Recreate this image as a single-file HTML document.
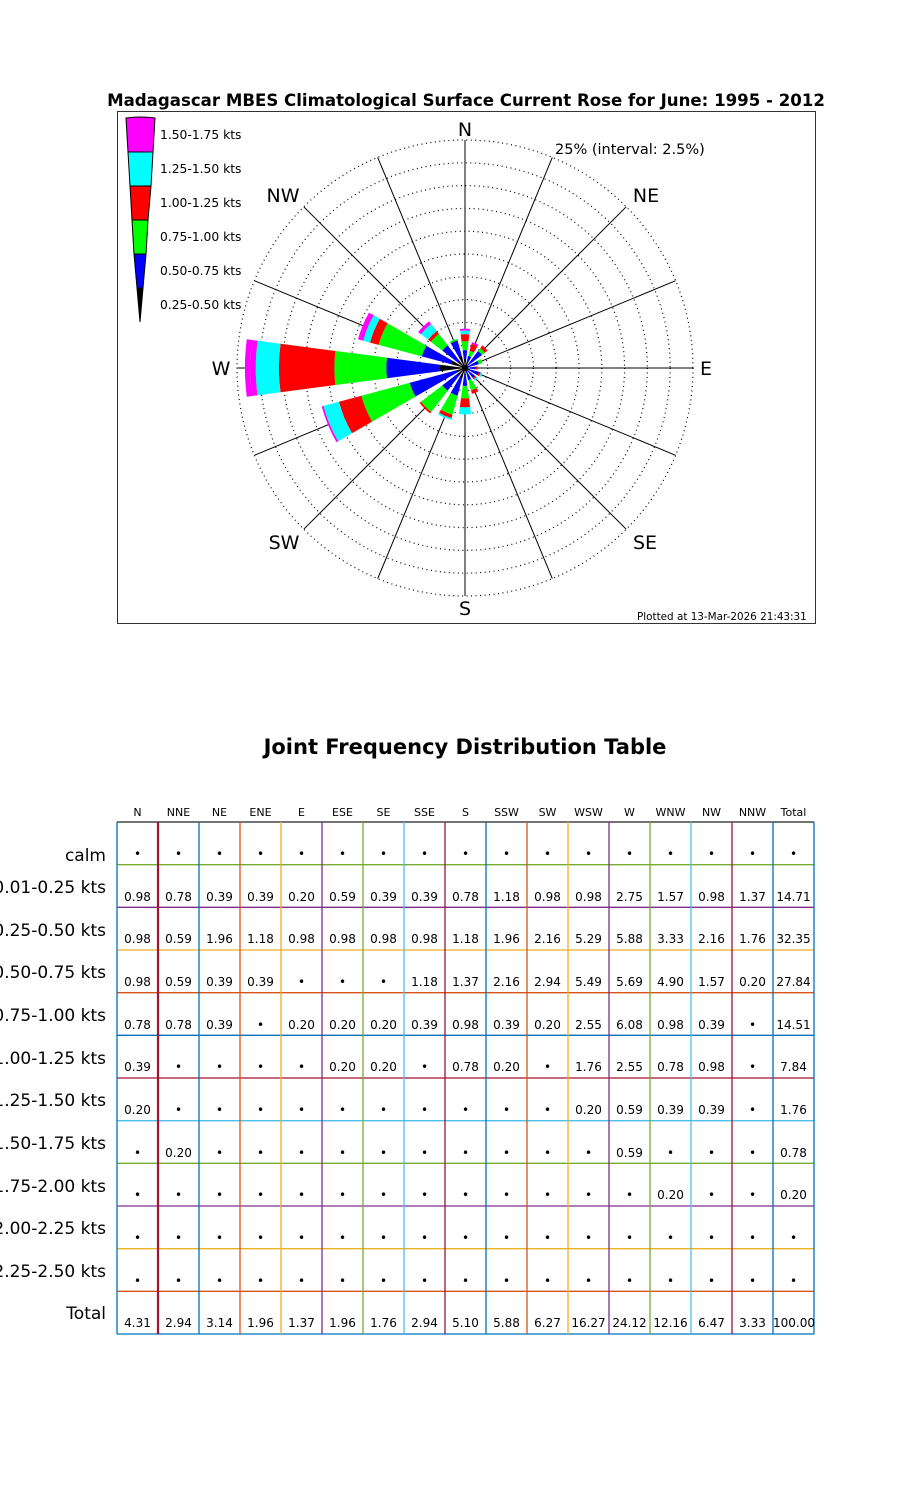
<!DOCTYPE html>
<html><head><meta charset="utf-8"><style>
body{margin:0;background:#fff;}
#wrap{position:relative;width:900px;height:1500px;overflow:hidden;font-family:"DejaVu Sans","Liberation Sans",sans-serif;}
svg{position:absolute;left:0;top:0;}
.row{position:absolute;left:117px;width:700px;height:17px;line-height:17px;font-size:12px;display:flex;color:#000;}
.row span{width:41px;text-align:center;display:block;}
.hdr{font-size:11px;}
.lab{position:absolute;right:794px;font-size:17px;white-space:nowrap;line-height:20px;}
</style></head><body><div id="wrap">
<svg width="900" height="1500" viewBox="0 0 900 1500" font-family="DejaVu Sans, Liberation Sans, sans-serif">
<text x="466" y="106" font-size="16.6" font-weight="bold" text-anchor="middle">Madagascar MBES Climatological Surface Current Rose for June: 1995 - 2012</text>
<rect x="117.5" y="111.5" width="698" height="512" fill="none" stroke="#333" stroke-width="1"/>
<g id="rings" fill="none" stroke="#000" stroke-width="1.2" stroke-dasharray="1,3.5"></g>
<g id="spokes" stroke="#000" stroke-width="1"></g>
<g id="wedges"></g>
<g font-size="19" text-anchor="middle">
<text x="465" y="136">N</text>
<text x="646" y="202">NE</text>
<text x="706" y="375">E</text>
<text x="645" y="549">SE</text>
<text x="465" y="615">S</text>
<text x="284" y="549">SW</text>
<text x="221" y="375">W</text>
<text x="283" y="202">NW</text>
</g>
<text x="555" y="154" font-size="14.5">25% (interval: 2.5%)</text>
<text x="637" y="620" font-size="10.4">Plotted at 13-Mar-2026 21:43:31</text>
<g stroke="#000" stroke-width="1">
<path d="M126,118 Q140,116 155,118 L153,152 L128,152 Z" fill="#ff00ff"/>
<path d="M128,152 L153,152 L151,186 L130,186 Z" fill="#00ffff"/>
<path d="M130,186 L151,186 L148,220 L132,220 Z" fill="#ff0000"/>
<path d="M132,220 L148,220 L146,254 L134,254 Z" fill="#00ff00"/>
<path d="M134,254 L146,254 L143,288 L137,288 Z" fill="#0000ff"/>
<path d="M137,288 L143,288 L140,322 Z" fill="#000"/>
</g>
<g font-size="12.3">
<text x="160" y="139">1.50-1.75 kts</text>
<text x="160" y="173">1.25-1.50 kts</text>
<text x="160" y="207">1.00-1.25 kts</text>
<text x="160" y="241">0.75-1.00 kts</text>
<text x="160" y="275">0.50-0.75 kts</text>
<text x="160" y="309">0.25-0.50 kts</text>
</g>
<text x="465" y="754" font-size="21" font-weight="bold" text-anchor="middle">Joint Frequency Distribution Table</text>
<g id="grid"></g>
</svg>

<div class="row hdr" style="top:804px"><span>N</span><span>NNE</span><span>NE</span><span>ENE</span><span>E</span><span>ESE</span><span>SE</span><span>SSE</span><span>S</span><span>SSW</span><span>SW</span><span>WSW</span><span>W</span><span>WNW</span><span>NW</span><span>NNW</span><span>Total</span></div>

<div class="lab" style="top:846px">calm</div>
<div class="lab" style="top:878px">0.01-0.25 kts</div>
<div class="lab" style="top:921px">0.25-0.50 kts</div>
<div class="lab" style="top:963px">0.50-0.75 kts</div>
<div class="lab" style="top:1006px">0.75-1.00 kts</div>
<div class="lab" style="top:1049px">1.00-1.25 kts</div>
<div class="lab" style="top:1091px">1.25-1.50 kts</div>
<div class="lab" style="top:1134px">1.50-1.75 kts</div>
<div class="lab" style="top:1177px">1.75-2.00 kts</div>
<div class="lab" style="top:1219px">2.00-2.25 kts</div>
<div class="lab" style="top:1262px">2.25-2.50 kts</div>
<div class="lab" style="top:1304px">Total</div>

<div class="row" style="top:846px"><span>•</span><span>•</span><span>•</span><span>•</span><span>•</span><span>•</span><span>•</span><span>•</span><span>•</span><span>•</span><span>•</span><span>•</span><span>•</span><span>•</span><span>•</span><span>•</span><span>•</span></div>
<div class="row" style="top:889px"><span>0.98</span><span>0.78</span><span>0.39</span><span>0.39</span><span>0.20</span><span>0.59</span><span>0.39</span><span>0.39</span><span>0.78</span><span>1.18</span><span>0.98</span><span>0.98</span><span>2.75</span><span>1.57</span><span>0.98</span><span>1.37</span><span>14.71</span></div>
<div class="row" style="top:931px"><span>0.98</span><span>0.59</span><span>1.96</span><span>1.18</span><span>0.98</span><span>0.98</span><span>0.98</span><span>0.98</span><span>1.18</span><span>1.96</span><span>2.16</span><span>5.29</span><span>5.88</span><span>3.33</span><span>2.16</span><span>1.76</span><span>32.35</span></div>
<div class="row" style="top:974px"><span>0.98</span><span>0.59</span><span>0.39</span><span>0.39</span><span>•</span><span>•</span><span>•</span><span>1.18</span><span>1.37</span><span>2.16</span><span>2.94</span><span>5.49</span><span>5.69</span><span>4.90</span><span>1.57</span><span>0.20</span><span>27.84</span></div>
<div class="row" style="top:1017px"><span>0.78</span><span>0.78</span><span>0.39</span><span>•</span><span>0.20</span><span>0.20</span><span>0.20</span><span>0.39</span><span>0.98</span><span>0.39</span><span>0.20</span><span>2.55</span><span>6.08</span><span>0.98</span><span>0.39</span><span>•</span><span>14.51</span></div>
<div class="row" style="top:1059px"><span>0.39</span><span>•</span><span>•</span><span>•</span><span>•</span><span>0.20</span><span>0.20</span><span>•</span><span>0.78</span><span>0.20</span><span>•</span><span>1.76</span><span>2.55</span><span>0.78</span><span>0.98</span><span>•</span><span>7.84</span></div>
<div class="row" style="top:1102px"><span>0.20</span><span>•</span><span>•</span><span>•</span><span>•</span><span>•</span><span>•</span><span>•</span><span>•</span><span>•</span><span>•</span><span>0.20</span><span>0.59</span><span>0.39</span><span>0.39</span><span>•</span><span>1.76</span></div>
<div class="row" style="top:1145px"><span>•</span><span>0.20</span><span>•</span><span>•</span><span>•</span><span>•</span><span>•</span><span>•</span><span>•</span><span>•</span><span>•</span><span>•</span><span>0.59</span><span>•</span><span>•</span><span>•</span><span>0.78</span></div>
<div class="row" style="top:1187px"><span>•</span><span>•</span><span>•</span><span>•</span><span>•</span><span>•</span><span>•</span><span>•</span><span>•</span><span>•</span><span>•</span><span>•</span><span>•</span><span>0.20</span><span>•</span><span>•</span><span>0.20</span></div>
<div class="row" style="top:1230px"><span>•</span><span>•</span><span>•</span><span>•</span><span>•</span><span>•</span><span>•</span><span>•</span><span>•</span><span>•</span><span>•</span><span>•</span><span>•</span><span>•</span><span>•</span><span>•</span><span>•</span></div>
<div class="row" style="top:1273px"><span>•</span><span>•</span><span>•</span><span>•</span><span>•</span><span>•</span><span>•</span><span>•</span><span>•</span><span>•</span><span>•</span><span>•</span><span>•</span><span>•</span><span>•</span><span>•</span><span>•</span></div>
<div class="row" style="top:1315px"><span>4.31</span><span>2.94</span><span>3.14</span><span>1.96</span><span>1.37</span><span>1.96</span><span>1.76</span><span>2.94</span><span>5.10</span><span>5.88</span><span>6.27</span><span>16.27</span><span>24.12</span><span>12.16</span><span>6.47</span><span>3.33</span><span>100.00</span></div>
</div>
<script>
(function(){
var NS="http://www.w3.org/2000/svg",cx=465,cy=368,R=228,s=R/25;
function el(t,a,p){var e=document.createElementNS(NS,t);for(var k in a)e.setAttribute(k,a[k]);p.appendChild(e);return e;}
var rings=document.getElementById('rings');
for(var k=1;k<=10;k++)el('circle',{cx:cx,cy:cy,r:(R*k/10).toFixed(1)},rings);
var sp=document.getElementById('spokes');
for(var i=0;i<16;i++){var a=i*22.5*Math.PI/180;el('line',{x1:cx,y1:cy,x2:(cx+R*Math.sin(a)).toFixed(1),y2:(cy-R*Math.cos(a)).toFixed(1)},sp);}
var D=[[.98,.98,.98,.78,.39,.20,0,0],[.78,.59,.59,.78,0,0,.20,0],[.39,1.96,.39,.39,0,0,0,0],[.39,1.18,.39,0,0,0,0,0],[.20,.98,0,.20,0,0,0,0],[.59,.98,0,.20,.20,0,0,0],[.39,.98,0,.20,.20,0,0,0],[.39,.98,1.18,.39,0,0,0,0],[.78,1.18,1.37,.98,.78,0,0,0],[1.18,1.96,2.16,.39,.20,0,0,0],[.98,2.16,2.94,.20,0,0,0,0],[.98,5.29,5.49,2.55,1.76,.20,0,0],[2.75,5.88,5.69,6.08,2.55,.59,.59,0],[1.57,3.33,4.90,.98,.78,.39,0,.20],[.98,2.16,1.57,.39,.98,.39,0,0],[1.37,1.76,.20,0,0,0,0,0]];
var C=['#000','#0000ff','#00ff00','#ff0000','#00ffff','#ff00ff','#ff00ff','#ff00ff'];
var w=document.getElementById('wedges'),h=7.5*Math.PI/180;
function P(r,a){return (cx+r*Math.sin(a)).toFixed(1)+','+(cy-r*Math.cos(a)).toFixed(1);}
for(var i=0;i<16;i++){var a=i*22.5*Math.PI/180,c=0;
for(var b=0;b<8;b++){var v=D[i][b];if(!v)continue;var r0=c*s,r1=(c+v)*s;c+=v;
var d='M'+P(r0,a-h)+' L'+P(r1,a-h)+' A'+r1.toFixed(1)+','+r1.toFixed(1)+' 0 0 1 '+P(r1,a+h)+' L'+P(r0,a+h)+(r0>0?' A'+r0.toFixed(1)+','+r0.toFixed(1)+' 0 0 0 '+P(r0,a-h):'')+' Z';
el('path',{d:d,fill:C[b]},w);}}
var g=document.getElementById('grid');
var B='#0072BD',O='#D95319',Y='#EDB120',Pu='#7E2F8E',G='#77AC30',L='#4DBEEE',Rd='#A2142F';
var top=822,bot=1334,rh=(bot-top)/12,left=117,cw=41,right=left+17*cw;
var HC=[G,Pu,Y,O,B,Rd,L,G,Pu,Y,O,B];
for(var j=0;j<12;j++){var y=(top+rh*(j+1)).toFixed(1);el('line',{x1:left,x2:right,y1:y,y2:y,stroke:HC[j],'stroke-width':1.3},g);}
el('line',{x1:left,x2:right,y1:top,y2:top,stroke:'#222','stroke-width':1.3},g);
var VC=[B,Rd,B,O,Y,Pu,G,L,Rd,B,O,Y,Pu,G,L,Rd,B,B];
for(var k=0;k<18;k++){var x=left+cw*k;el('line',{x1:x,x2:x,y1:top,y2:bot,stroke:VC[k],'stroke-width':(k==1?2.2:1.3)},g);}
})();
</script>
</body></html>
